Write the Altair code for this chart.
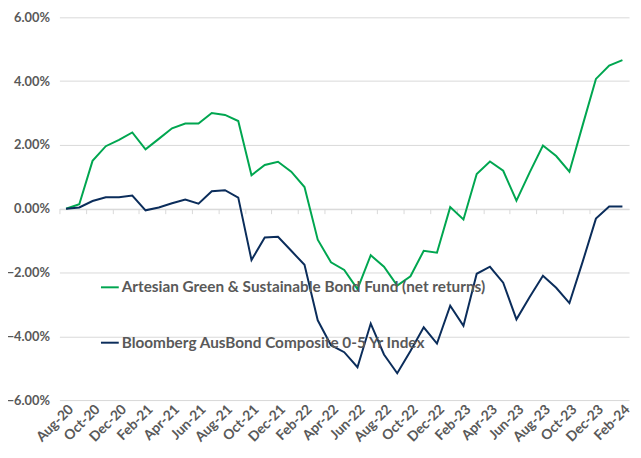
import altair as alt
import pandas as pd

months = ["Aug-20", "Sep-20", "Oct-20", "Nov-20", "Dec-20", "Jan-21", "Feb-21", "Mar-21",
          "Apr-21", "May-21", "Jun-21", "Jul-21", "Aug-21", "Sep-21", "Oct-21", "Nov-21",
          "Dec-21", "Jan-22", "Feb-22", "Mar-22", "Apr-22", "May-22", "Jun-22", "Jul-22",
          "Aug-22", "Sep-22", "Oct-22", "Nov-22", "Dec-22", "Jan-23", "Feb-23", "Mar-23",
          "Apr-23", "May-23", "Jun-23", "Jul-23", "Aug-23", "Sep-23", "Oct-23", "Nov-23",
          "Dec-23", "Jan-24", "Feb-24"]

fund = [0.00, 0.14, 1.50, 1.96, 2.16, 2.39, 1.86, 2.19, 2.52, 2.67, 2.67, 3.00, 2.94, 2.75,
        1.05, 1.37, 1.47, 1.16, 0.68, -0.97, -1.68, -1.92, -2.52, -1.46, -1.82, -2.41, -2.12,
        -1.32, -1.38, 0.05, -0.34, 1.09, 1.48, 1.19, 0.25, 1.14, 1.98, 1.65, 1.16, 2.62,
        4.07, 4.49, 4.66]

index = [0.00, 0.04, 0.24, 0.36, 0.36, 0.41, -0.05, 0.04, 0.17, 0.29, 0.16, 0.55, 0.58, 0.35,
         -1.61, -0.90, -0.88, -1.32, -1.76, -3.50, -4.28, -4.50, -4.97, -3.60, -4.57, -5.16,
         -4.46, -3.72, -4.23, -3.04, -3.67, -2.04, -1.82, -2.32, -3.47, -2.77, -2.10, -2.48,
         -2.96, -1.66, -0.31, 0.07, 0.07]

series = ["Artesian Green & Sustainable Bond Fund (net returns)",
          "Bloomberg AusBond Composite 0-5 Yr Index"]
colors = ["#00A650", "#0B2D5B"]

rows = []
for name, vals in zip(series, [fund, index]):
    for i, (m, v) in enumerate(zip(months, vals)):
        rows.append({"idx": i, "month": m, "value": v, "series": name})
df = pd.DataFrame(rows)

W, H = 576, 387
FONT = "Lato"
TXT = "#595959"
GRID = "#D9D9D9"

label_array = "[" + ",".join("'" + m + "'" for m in months) + "]"
xscale = alt.Scale(domain=[-0.5, len(months) - 0.5], nice=False, zero=False)
yscale = alt.Scale(domain=[-6, 6], nice=False)

lines = alt.Chart(df).mark_line(strokeWidth=2).encode(
    x=alt.X("idx:Q", scale=xscale,
            axis=alt.Axis(orient="bottom", values=list(range(0, len(months), 2)),
                          labelExpr=label_array + "[datum.value]",
                          labelAngle=-45, ticks=False, domain=False, grid=False, title=None,
                          labelFont=FONT, labelFontSize=14, labelFontWeight="bold", labelColor=TXT,
                          labelPadding=2, labelOverlap=False, labelFlush=False)),
    y=alt.Y("value:Q", scale=yscale,
            axis=alt.Axis(values=[-6, -4, -2, 0, 2, 4, 6], labelExpr="format(datum.value, '.2f') + '%'",
                          ticks=False, tickSize=0, domain=False, grid=True, gridColor=GRID, gridWidth=1,
                          title=None, labelFont=FONT, labelFontSize=13, labelFontWeight="bold",
                          labelColor=TXT, labelPadding=10)),
    color=alt.Color("series:N", scale=alt.Scale(domain=series, range=colors),
                    legend=alt.Legend(orient="none", legendX=41, legendY=263, direction="vertical",
                                      title=None, symbolType="stroke", symbolStrokeWidth=2,
                                      symbolSize=324, labelFont=FONT, labelFontSize=15.5,
                                      labelFontWeight="bold", labelColor=TXT, rowPadding=37,
                                      labelOffset=2, labelLimit=600)),
    order="idx:Q",
)

ticks_layer = alt.Chart(df).mark_point(opacity=0).encode(
    x=alt.X("idx:Q", scale=xscale,
            axis=alt.Axis(orient="bottom", values=[v - 0.5 for v in range(0, len(months) - 1, 2)],
                          labels=False, ticks=True, tickSize=5, tickColor=GRID, domain=True,
                          domainColor=GRID, grid=False, title=None, offset=-H / 2)),
    y=alt.Y("value:Q", scale=yscale),
)

chart = alt.layer(ticks_layer, lines).resolve_axis(x="independent").properties(
    width=W, height=H,
    autosize=alt.AutoSizeParams(type="none"),
    padding={"left": 52, "top": 7, "right": 4, "bottom": 43},
).configure_view(stroke=None)

chart.save("out.html", embed_options={"renderer": "svg", "actions": False})
